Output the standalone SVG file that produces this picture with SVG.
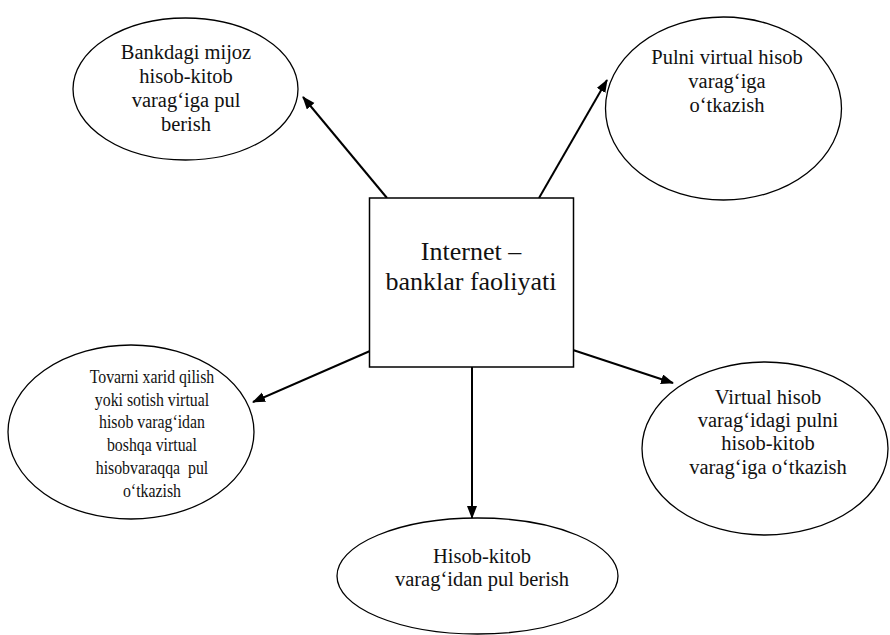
<svg xmlns="http://www.w3.org/2000/svg" width="890" height="635" viewBox="0 0 890 635">
<defs>
<style>
.node ellipse{fill:#fff;stroke:#000;stroke-width:1.3}
.box{fill:#fff;stroke:#000;stroke-width:1.5}
.t{font-size:20.5px}
.s{font-size:18px}
.c{font-size:26px}
.edge{stroke:#000;stroke-width:2;fill:none;marker-end:url(#ah)}
</style>
<marker id="ah" markerUnits="userSpaceOnUse" markerWidth="14" markerHeight="12" refX="12" refY="5" orient="auto">
<path d="M0,0 L13,5 L0,10 z" fill="#000"/>
</marker>
</defs>
<rect width="890" height="635" fill="#fff"/>
<g id="connectors">
<line class="edge" x1="387" y1="198" x2="303" y2="97"/>
<line class="edge" x1="539" y1="198" x2="607" y2="80"/>
<line class="edge" x1="370" y1="351" x2="253" y2="402"/>
<line class="edge" x1="573" y1="350" x2="673" y2="383"/>
<line class="edge" x1="472" y1="367" x2="472" y2="518"/>
</g>
<g font-family="Liberation Serif" fill="#111" text-anchor="middle">
<g id="center" class="node">
<rect class="box" x="369.5" y="198" width="204" height="169"/>
<text class="c" x="471" y="260">Internet –</text>
<text class="c" x="471" y="290">banklar faoliyati</text>
</g>
<g id="n1" class="node">
<ellipse cx="185.5" cy="89" rx="112.5" ry="71"/>
<text class="t" x="186" y="59">Bankdagi mijoz</text>
<text class="t" x="186" y="83">hisob-kitob</text>
<text class="t" x="186" y="107">varag‘iga pul</text>
<text class="t" x="186" y="131">berish</text>
</g>
<g id="n2" class="node">
<ellipse cx="723.5" cy="108.5" rx="118" ry="91.5"/>
<text class="t" x="727" y="64">Pulni virtual hisob</text>
<text class="t" x="727" y="88">varag‘iga</text>
<text class="t" x="727" y="112">o‘tkazish</text>
</g>
<g id="n3" class="node">
<ellipse cx="131" cy="432" rx="123" ry="87"/>
<g transform="scale(0.88 1)">
<text class="s" x="172.7" y="383">Tovarni xarid qilish</text>
<text class="s" x="172.7" y="406">yoki sotish virtual</text>
<text class="s" x="172.7" y="428">hisob varag‘idan</text>
<text class="s" x="172.7" y="451">boshqa virtual</text>
<text class="s" x="172.7" y="474" xml:space="preserve">hisobvaraqqa  pul</text>
<text class="s" x="172.7" y="497">o‘tkazish</text>
</g>
</g>
<g id="n4" class="node">
<ellipse cx="765" cy="448.5" rx="123" ry="86.5"/>
<text class="t" x="768" y="404">Virtual hisob</text>
<text class="t" x="768" y="427">varag‘idagi pulni</text>
<text class="t" x="768" y="450">hisob-kitob</text>
<text class="t" x="768" y="474">varag‘iga o‘tkazish</text>
</g>
<g id="n5" class="node">
<ellipse cx="477.5" cy="576" rx="140.5" ry="58"/>
<text class="t" x="482" y="563">Hisob-kitob</text>
<text class="t" x="482" y="586">varag‘idan pul berish</text>
</g>
</g>
</svg>
